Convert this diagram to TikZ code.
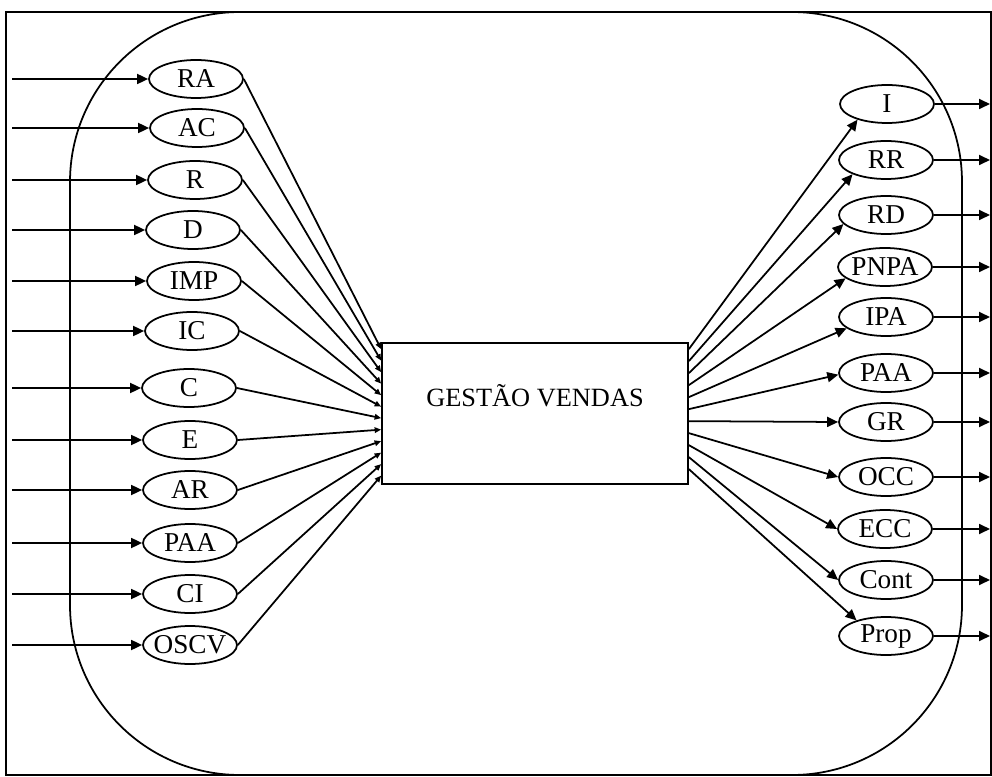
\documentclass[tikz,border=0pt]{standalone}
\usepackage{fontspec}
\setmainfont{Liberation Serif}
\usetikzlibrary{arrows.meta,shapes.geometric,calc}

\tikzset{
  oval/.style={ellipse, draw, minimum width=1.88cm, minimum height=0.76cm,
    inner sep=0pt, font=\fontsize{15.5}{18}\selectfont},
  bigtip/.style={-{Triangle[length=0.22cm,width=0.2cm]}},
  smalltip/.style={-{Triangle[length=0.13cm,width=0.11cm]}},
}

\begin{document}
\begin{tikzpicture}[x=0.02cm, y=-0.02cm, line width=1pt]
  \useasboundingbox (0,0) rectangle (992,777);

  % moldura e contorno do sistema
  \draw (6,12) rectangle (991,775);
  \draw[rounded corners=3.4cm] (70,12) rectangle (962,775);

  % caixa central
  \node[draw, minimum width=6.12cm, minimum height=2.82cm, inner sep=0pt,
    text height=0.4cm, text depth=0.7cm, font=\fontsize{15}{18}\selectfont]
    (GV) at (535,413.5) {GESTÃO VENDAS};

  \coordinate (fL) at (12,0);
  \coordinate (fR) at (990,0);

  % entradas
  \node[oval] (inRA)   at (196,79)  {\makebox[0pt]{RA}};
  \node[oval] (inAC)   at (197,128) {\makebox[0pt]{AC}};
  \node[oval] (inR)    at (195,180) {\makebox[0pt]{R}};
  \node[oval] (inD)    at (193,230) {\makebox[0pt]{D}};
  \node[oval] (inIMP)  at (194,281) {\makebox[0pt]{IMP}};
  \node[oval] (inIC)   at (192,331) {\makebox[0pt]{IC}};
  \node[oval] (inC)    at (189,388) {\makebox[0pt]{C}};
  \node[oval] (inE)    at (190,440) {\makebox[0pt]{E}};
  \node[oval] (inAR)   at (190,490) {\makebox[0pt]{AR}};
  \node[oval] (inPAA)  at (190,543) {\makebox[0pt]{PAA}};
  \node[oval] (inCI)   at (190,594) {\makebox[0pt]{CI}};
  \node[oval] (inOSCV) at (190,645) {\makebox[0pt]{OSCV}};

  % saidas
  \node[oval] (outI)    at (887,104) {\makebox[0pt]{I}};
  \node[oval] (outRR)   at (886,160) {\makebox[0pt]{RR}};
  \node[oval] (outRD)   at (886,215) {\makebox[0pt]{RD}};
  \node[oval] (outPNPA) at (885,267) {\makebox[0pt]{PNPA}};
  \node[oval] (outIPA)  at (886,317) {\makebox[0pt]{IPA}};
  \node[oval] (outPAA)  at (886,373) {\makebox[0pt]{PAA}};
  \node[oval] (outGR)   at (886,422) {\makebox[0pt]{GR}};
  \node[oval] (outOCC)  at (886,477) {\makebox[0pt]{OCC}};
  \node[oval] (outECC)  at (885,529) {\makebox[0pt]{ECC}};
  \node[oval] (outCont) at (886,580) {\makebox[0pt]{Cont}};
  \node[oval] (outProp) at (886,636) {\makebox[0pt]{Prop}};

  % setas de entrada
  \foreach \n [count=\i from 0] in {inRA,inAC,inR,inD,inIMP,inIC,inC,inE,inAR,inPAA,inCI,inOSCV} {
    \coordinate (\n-b) at ($(GV.north west)+(0,7+11.5*\i)$);
    \draw[bigtip] (\n.west -| fL) -- (\n);
    \draw[smalltip] (\n.east) -- (\n-b);
  }

  % setas de saida
  \foreach \n/\a [count=\i from 0] in {outI/208,outRR/203,outRD/192,outPNPA/196,outIPA/196,outPAA/182,
      outGR/180,outOCC/180,outECC/180,outCont/180,outProp/152} {
    \coordinate (\n-a) at ($(GV.north east)+(0,7+12*\i)$);
    \draw[bigtip] (\n-a) -- (\n.\a);
    \draw[bigtip] (\n.east) -- (\n.east -| fR);
  }
\end{tikzpicture}
\end{document}
